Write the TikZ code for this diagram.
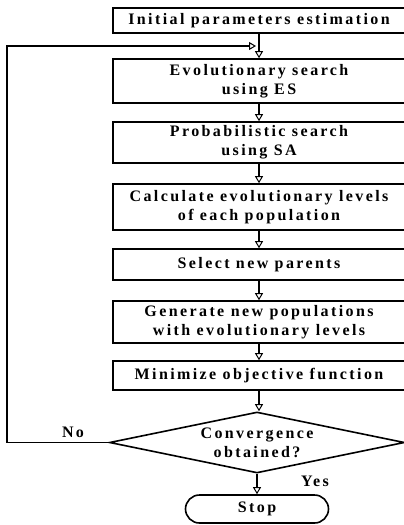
\documentclass[tikz,border=0pt]{standalone}
\usepackage{fontspec}
\newfontfamily\lbl{Liberation Serif}[LetterSpace=15]
\usetikzlibrary{arrows.meta,shapes.geometric}
\begin{document}
\begin{tikzpicture}[x=1pt,y=-1pt,
  txt/.style={font=\lbl\bfseries\fontsize{16}{19}\selectfont, align=center},
  box/.style={txt, draw, line width=1.6pt, minimum width=292pt, inner sep=0pt},
  arr/.style={line width=1.2pt, -{Triangle[open,width=8pt,length=7pt,line width=1pt]}}]
\useasboundingbox (0,0) rectangle (404,525);
\node[box, minimum height=25pt] (b1) at (259,20.5) {Initial parameters estimation};
\node[box, minimum height=44pt] (b2) at (259,81) {Evolutionary search\\using ES};
\node[box, minimum height=41pt] (b3) at (259,142.5) {Probabilistic search\\using SA};
\node[box, minimum height=46pt] (b4) at (259,207) {Calculate evolutionary levels\\of each population};
\node[box, minimum height=31pt] (b5) at (259,264.5) {Select new parents};
\node[box, minimum height=42pt] (b6) at (259,322) {Generate new populations\\with evolutionary levels};
\node[box, minimum height=29pt] (b7) at (259,375.5) {Minimize objective function};
\node[txt, draw, diamond, shape aspect=4.8, minimum width=295pt, minimum height=61pt, inner sep=0pt, line width=1.6pt] (d) at (257,442.5) {Convergence\\obtained?};
\node[txt, draw, rounded corners=14pt, minimum width=143pt, minimum height=28pt, line width=1.6pt] (s) at (257,509) {Stop};
\node[txt] (no) at (73,432) {No};
\node[txt] (yes) at (315,481) {Yes};
\coordinate (corner) at (7,46);
\coordinate (fb) at (256,46);
\draw[arr] (b1) -- (b2);
\draw[arr] (b2) -- (b3);
\draw[arr] (b3) -- (b4);
\draw[arr] (b4) -- (b5);
\draw[arr] (b5) -- (b6);
\draw[arr] (b6) -- (b7);
\draw[arr] (b7.south) -- (b7.south |- d.north);
\draw[arr] (d.south) -- (s.north);
\draw[arr] (d.west) -| (corner) -- (fb);
\end{tikzpicture}
\end{document}
